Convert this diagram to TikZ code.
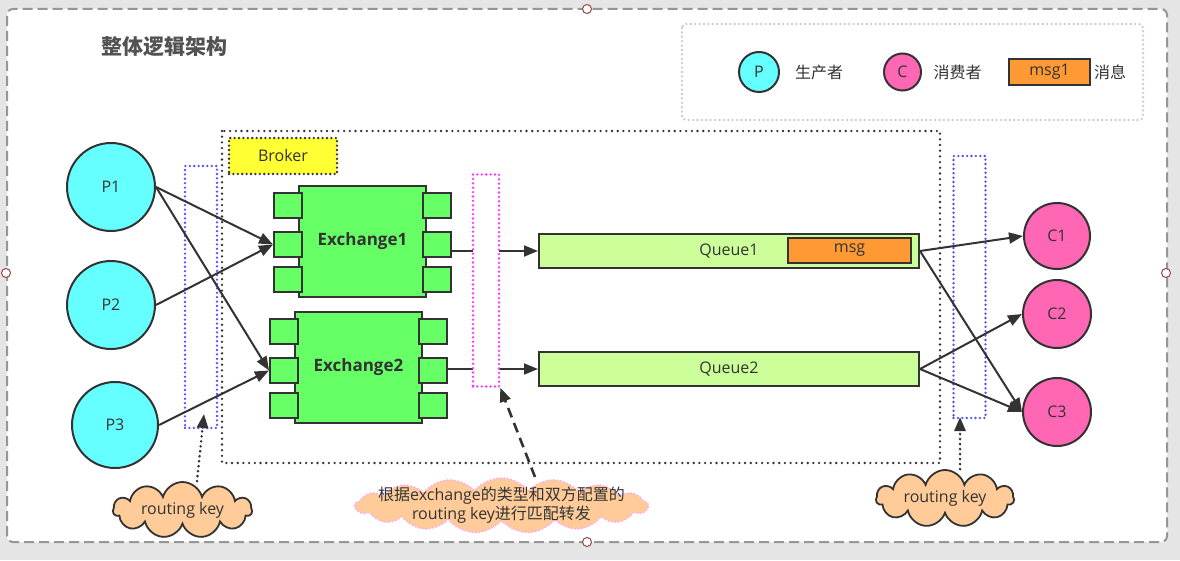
\documentclass[tikz,border=0pt]{standalone}
\usepackage{fontspec}
\setmainfont{Open Sans}
\newfontfamily\cjkfont{Noto Sans CJK SC}
\newcommand{\zh}[1]{{\cjkfont #1}}
\usepackage{tikz}
\usetikzlibrary{arrows.meta,shapes.symbols}
\definecolor{pagegray}{RGB}{229,229,229}
\definecolor{framegray}{RGB}{150,150,150}
\definecolor{ink}{RGB}{51,51,51}
\definecolor{prodfill}{RGB}{102,255,255}
\definecolor{consfill}{RGB}{255,102,179}
\definecolor{exfill}{RGB}{102,255,102}
\definecolor{queuefill}{RGB}{204,255,153}
\definecolor{msgfill}{RGB}{255,153,51}
\definecolor{brokerfill}{RGB}{255,255,51}
\definecolor{cloudfill}{RGB}{255,204,153}
\definecolor{keyblue}{RGB}{80,80,255}
\definecolor{keypink}{RGB}{255,51,255}
\definecolor{handle}{RGB}{150,70,70}
\tikzset{
  txt/.style={text=ink, font=\fontsize{16}{19}\selectfont},
  prod/.style={circle, draw=ink, line width=2pt, fill=prodfill, txt, inner sep=0pt},
  cons/.style={circle, draw=ink, line width=2pt, fill=consfill, txt, inner sep=0pt},
  exch/.style={draw=ink, line width=2pt, fill=exfill, minimum width=127pt,
    minimum height=111pt, inner sep=0pt, text=ink, font=\fontsize{17}{20}\selectfont\bfseries},
  port/.style={draw=ink, line width=2pt, fill=exfill, minimum width=28pt,
    minimum height=25pt, inner sep=0pt},
  queue/.style={draw=ink, line width=2pt, fill=queuefill, minimum width=380pt,
    minimum height=34pt, inner sep=0pt, txt},
  msgbox/.style={draw=ink, line width=2pt, fill=msgfill, inner sep=0pt, txt},
  dots/.style={line width=2.6pt, dash pattern=on 0pt off 4.4pt, line cap=round},
  keybox/.style={draw=keyblue, dots, inner sep=0pt, minimum width=32pt},
  routebox/.style={draw=keypink, fill=white, dots, inner sep=0pt, minimum width=26pt},
  keycloud/.style={cloud, cloud puffs=11, cloud ignores aspect, draw=ink, line width=1.8pt,
    fill=cloudfill, inner sep=0pt, txt},
  arr/.style={-{Triangle[length=14pt,width=11pt]}, line width=2pt, draw=ink},
  hint/.style={-{Triangle[length=14pt,width=11pt]}, line width=2.8pt, draw=ink,
    dash pattern=on 0pt off 5pt, line cap=round},
  grip/.style={circle, draw=handle, fill=white, line width=1pt, minimum size=9pt, inner sep=0pt}
}
\begin{document}
\begin{tikzpicture}[x=1pt,y=1pt]
  \useasboundingbox (0,0) rectangle (1180,560);
  \fill[pagegray] (0,0) rectangle (1180,560);
  \path[fill=white, draw=framegray, line width=2pt, dash pattern=on 10pt off 5pt,
    rounded corners=6pt] (7,18) rectangle (1167,551);
  \node[grip] (g1) at (587,551) {};
  \node[grip] (g2) at (6,287) {};
  \node[grip] (g3) at (1166,287) {};
  \node[grip] (g4) at (587,18) {};

  \node[font=\fontsize{21}{24}\selectfont\cjkfont\bfseries, text=ink!85!white] (title) at (164,513) {整体逻辑架构};

  \path[draw=black!20, dots, rounded corners=4pt] (682,536) rectangle (1143,440);
  \node[prod, minimum size=40pt] (lp) at (759,488) {P};
  \node[txt] (lptxt) at (819,488) {\zh{生产者}};
  \node[cons, minimum size=37pt] (lc) at (902.5,488) {C};
  \node[txt] (lctxt) at (957.5,488) {\zh{消费者}};
  \node[msgbox, minimum width=81pt, minimum height=26pt] (lmsg) at (1049.5,488) {msg1};
  \node[txt] (lmsgtxt) at (1110,488) {\zh{消息}};

  \path[draw=ink, dots, dash pattern=on 0pt off 5.7pt] (222,429) rectangle (940,97);
  \node[draw=ink, dots, fill=brokerfill, minimum width=108pt, minimum height=36pt,
    inner sep=0pt, txt] (broker) at (283,404) {Broker};

  \node[keybox, minimum height=262pt] (keyl) at (201,263) {};
  \node[keybox, minimum height=262pt] (keyr) at (969.5,273) {};

  \node[prod, minimum size=88pt] (p1) at (111,373) {P1};
  \node[prod, minimum size=88pt] (p2) at (111,255) {P2};
  \node[prod, minimum size=86pt] (p3) at (115,135) {P3};

  \node[exch] (ex1) at (362.5,318.5) {Exchange1};
  \node[exch] (ex2) at (358.5,192.5) {Exchange2};
  \foreach \e in {ex1,ex2}{
    \foreach \s/\dy in {1/36,2/-3,3/-38}{
      \node[port] (\e l\s) at ([shift={(-10pt,\dy pt)}]\e.west) {};
      \node[port] (\e r\s) at ([shift={(10pt,\dy pt)}]\e.east) {};
    }
  }

  \node[queue] (q1) at (729,309) {Queue1};
  \node[queue] (q2) at (729,191) {Queue2};
  \node[msgbox, minimum width=123pt, minimum height=25pt] (msg) at (849.5,309.5) {msg};

  \node[cons, minimum size=66pt] (c1) at (1057,324) {C1};
  \node[cons, minimum size=68pt] (c2) at (1057,246) {C2};
  \node[cons, minimum size=68pt] (c3) at (1057,148) {C3};

  \draw[arr] (p1.east) -- (ex1l2.west);
  \draw[arr] (p1.east) -- (ex2l2.west);
  \draw[arr] (p2.east) -- (ex1l2.west);
  \draw[arr] (p3.east) -- (ex2l2.west);

  \draw[arr] (ex1r2.east |- q1.west) -- (q1.west);
  \draw[arr] (ex2r2.east |- q2.west) -- (q2.west);
  \node[routebox, minimum height=212pt] (route) at (486,279.5) {};

  \draw[arr] (q1.east) -- (c1.west);
  \draw[arr] (q1.east) -- (c3.west);
  \draw[arr] (q2.east) -- (c2.west);
  \draw[arr] (q2.east) -- (c3.west);

  \node[keycloud, minimum width=139pt, minimum height=56pt] (cloudl) at (182.5,50) {routing key};
  \node[keycloud, minimum width=138pt, minimum height=57pt] (cloudr) at (945,61.5) {routing key};
  \node[keycloud, cloud puffs=17, cloud puff arc=100, draw=keypink!45!white,
    dash pattern=on 0pt off 3.5pt, line cap=round, line width=2pt,
    minimum width=293pt, minimum height=55pt] (cloudm) at (501.5,54.5) {};
  \node[txt, align=center] (cloudmtxt) at (cloudm.center)
    {\zh{根据}exchange\zh{的类型和双方配置的}\\routing key\zh{进行匹配转发}};

  \coordinate (tipl) at (204,146);
  \coordinate (tipr) at (960,143);
  \draw[hint] (cloudl.north -| 197,0) -- (tipl);
  \draw[hint] (cloudr.north -| tipr) -- (tipr);
  \draw[-{Triangle[length=14pt,width=11pt]}, line width=2.6pt, draw=ink,
    dash pattern=on 10pt off 6pt] (cloudm.north -| 535,0) -- (route.south east);
\end{tikzpicture}
\end{document}
